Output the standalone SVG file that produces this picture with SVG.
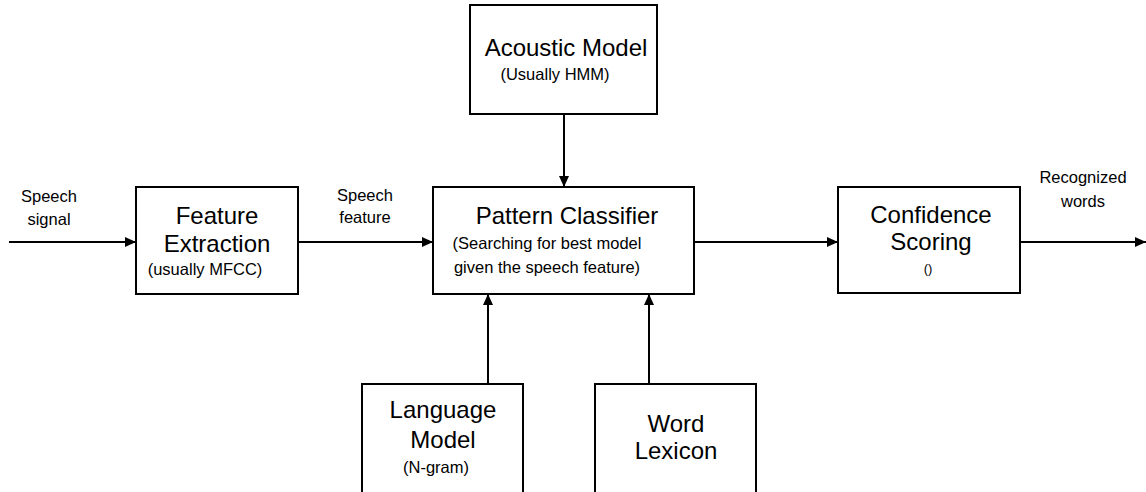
<svg xmlns="http://www.w3.org/2000/svg" width="1146" height="492" viewBox="0 0 1146 492">
<style>
.box{fill:#fff;stroke:#000;stroke-width:2}
.big{font-family:"Liberation Sans",Arial,sans-serif;font-size:24px;fill:#000;text-anchor:middle}
.sm{font-family:"Liberation Sans",Arial,sans-serif;font-size:16.5px;fill:#000;text-anchor:middle}
.xs{font-family:"Liberation Sans",Arial,sans-serif;font-size:13px;fill:#000;text-anchor:middle}
.edge{stroke:#000;stroke-width:2;fill:none;marker-end:url(#ah)}
</style>
<defs>
<marker id="ah" markerUnits="userSpaceOnUse" markerWidth="12" markerHeight="10" refX="11" refY="5" orient="auto">
<path d="M0,0 L11,5 L0,10 Z" fill="#000"/>
</marker>
</defs>
<rect width="1146" height="492" fill="#fff"/>
<g id="connectors">
<line class="edge" x1="9" y1="242" x2="136" y2="242"/>
<line class="edge" x1="298" y1="242" x2="433" y2="242"/>
<line class="edge" x1="694" y1="242" x2="838" y2="242"/>
<line class="edge" x1="1020" y1="242" x2="1146" y2="242"/>
<line class="edge" x1="564" y1="114" x2="564" y2="187"/>
<line class="edge" x1="488" y1="384" x2="488" y2="294"/>
<line class="edge" x1="649" y1="384" x2="649" y2="294"/>
</g>
<g id="labels">
<text class="sm" x="49" y="202">Speech</text>
<text class="sm" x="49" y="225">signal</text>
<text class="sm" x="365" y="201">Speech</text>
<text class="sm" x="365" y="223">feature</text>
<text class="sm" x="1083" y="183">Recognized</text>
<text class="sm" x="1083" y="207">words</text>
</g>
<g id="feature-extraction">
<rect class="box" x="136" y="187" width="162" height="107"/>
<text class="big" x="217" y="224">Feature</text>
<text class="big" x="217" y="252">Extraction</text>
<text class="sm" x="205" y="275">(usually MFCC)</text>
</g>
<g id="acoustic-model">
<rect class="box" x="470" y="5" width="187" height="109"/>
<text class="big" x="566" y="56">Acoustic Model</text>
<text class="sm" x="555" y="80">(Usually HMM)</text>
</g>
<g id="pattern-classifier">
<rect class="box" x="433" y="187" width="261" height="107"/>
<text class="big" x="567" y="224">Pattern Classifier</text>
<text class="sm" x="547" y="249">(Searching for best model</text>
<text class="sm" x="547" y="273">given the speech feature)</text>
</g>
<g id="confidence-scoring">
<rect class="box" x="838" y="187" width="182" height="106"/>
<text class="big" x="931" y="223">Confidence</text>
<text class="big" x="931" y="250">Scoring</text>
<text class="xs" x="928" y="273">()</text>
</g>
<g id="language-model">
<rect class="box" x="362" y="384" width="161" height="120"/>
<text class="big" x="443" y="418">Language</text>
<text class="big" x="443" y="448">Model</text>
<text class="sm" x="436" y="473">(N-gram)</text>
</g>
<g id="word-lexicon">
<rect class="box" x="595" y="384" width="161" height="120"/>
<text class="big" x="676" y="432">Word</text>
<text class="big" x="676" y="459">Lexicon</text>
</g>
</svg>
